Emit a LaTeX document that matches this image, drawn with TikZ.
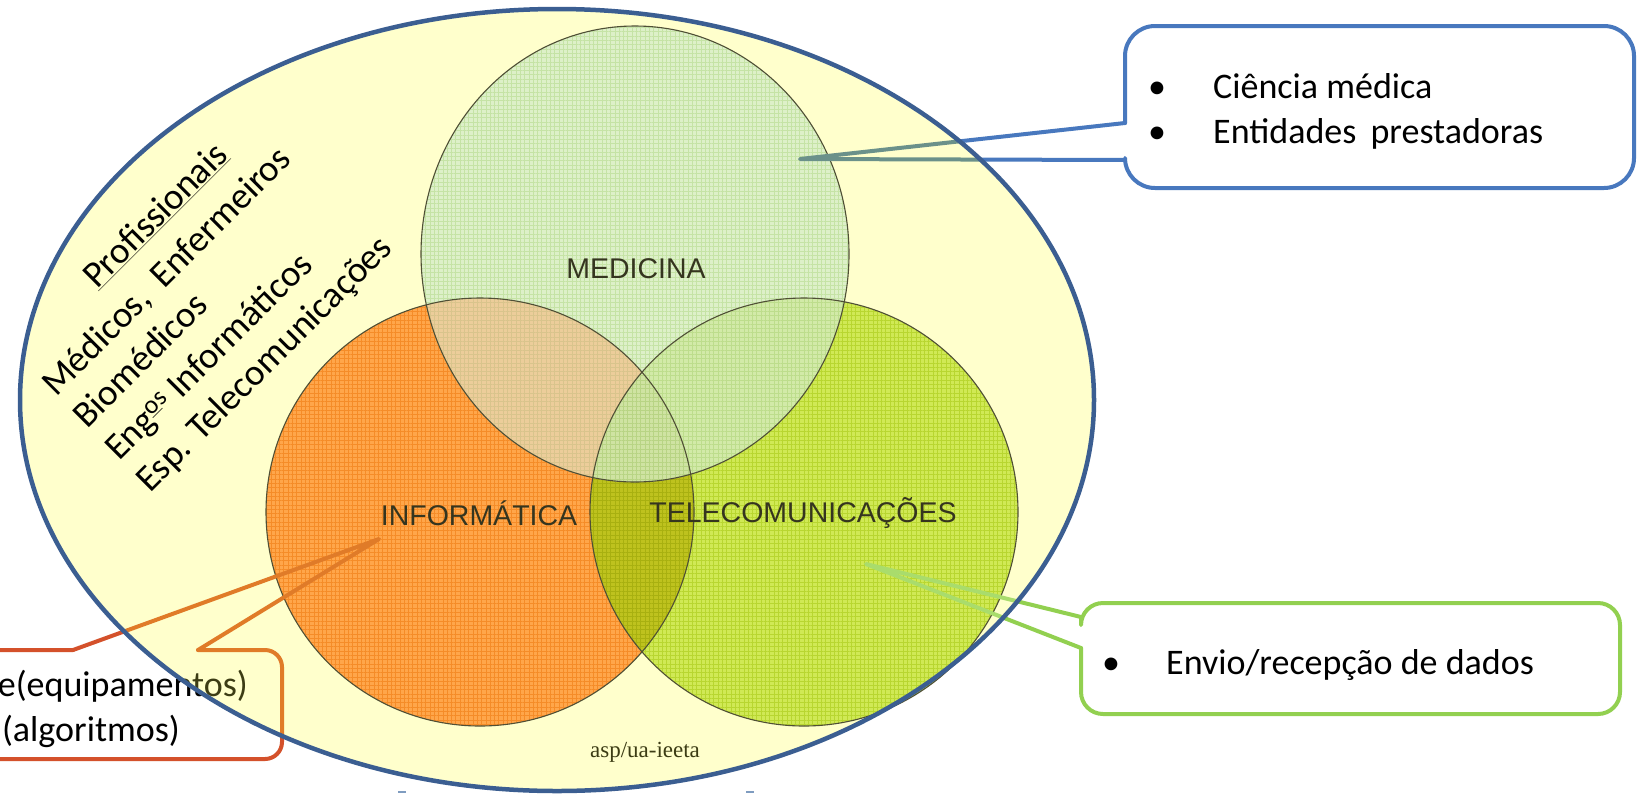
\documentclass[tikz,border=0pt]{standalone}
\usepackage{fontspec}
\setmainfont{Carlito}
\newfontfamily\arialf{Liberation Sans}
\newfontfamily\seriff{Liberation Serif}
\usetikzlibrary{patterns.meta}
\definecolor{ellfill}{HTML}{FFFFCC}
\definecolor{ellline}{HTML}{3B5E91}
\definecolor{bluecol}{HTML}{4878BE}
\definecolor{bluetint}{HTML}{6B918A}
\definecolor{greencol}{HTML}{92D050}
\definecolor{greentint}{HTML}{A9DC6C}
\definecolor{redcol}{HTML}{D4512B}
\definecolor{orangetint}{HTML}{E07B28}
\definecolor{olivetxt}{HTML}{3C3C14}
\definecolor{medfill}{HTML}{DDF0C8}
\definecolor{medhatch}{HTML}{C5E3A5}
\definecolor{infofill}{HTML}{FFA64A}
\definecolor{infohatch}{HTML}{F58C28}
\definecolor{telefill}{HTML}{D0E955}
\definecolor{telehatch}{HTML}{B8D630}
\definecolor{itfill}{HTML}{BEC21E}
\definecolor{ithatch}{HTML}{A8B010}
\definecolor{mifill}{HTML}{ECCD9A}
\definecolor{mihatch}{HTML}{D9C48C}
\definecolor{mtfill}{HTML}{D2EAA8}
\definecolor{mthatch}{HTML}{BDDD8C}
\definecolor{trifill}{HTML}{CFE3A2}
\definecolor{trihatch}{HTML}{B8D484}
\definecolor{vennline}{HTML}{4F4F35}
\definecolor{labtxt}{HTML}{35351F}
\definecolor{marks}{HTML}{7F9CC0}
\begin{document}
\begin{tikzpicture}[x=1pt,y=-1pt,
  callfont/.style={font=\fontsize{36}{44}\selectfont, inner sep=0pt},
  lab/.style={font=\arialf\fontsize{28.5}{34}\selectfont, text=labtxt, inner sep=0pt},
  prof/.style={font=\fontsize{37}{45}\selectfont, rotate=45, anchor=base west, inner sep=0pt},
  vborder/.style={draw=vennline, line width=1.1pt},
  vgrid/.style={pattern={Hatch[distance=4.3pt,angle=0,line width=0.8pt]}},
  bluecall/.style={draw=bluecol, line width=4pt, line cap=round, line join=round},
  greencall/.style={draw=greencol, line width=4pt, line cap=round, line join=round},
  redcall/.style={draw=redcol, line width=4pt, line cap=round, line join=round},
]
\useasboundingbox (0,0) rectangle (1637,793);
\fill[white] (0,0) rectangle (1637,793);

\coordinate (EC) at (557,400);
\coordinate (MC) at (635,254);
\coordinate (IC) at (480,512);
\coordinate (TC) at (804,512);
\coordinate (Btip) at (800,159);
\coordinate (Gtip) at (866,564);
\coordinate (Otip) at (379,539);

% ---- callouts (behind the ellipse)
\draw[bluecall, rounded corners=30pt] (1125,123) -- (1125,26) -- (1634,26) -- (1634,188) -- (1125,188) -- (1125,160);
\draw[bluecall] (1125,160) -- (Btip) -- (1125,123);
\node[callfont, anchor=base] (bb1) at (1157,98) {•};
\node[callfont, anchor=base west] (bt1) at (1213,98) {Ciência médica};
\node[callfont, anchor=base] (bb2) at (1157,143) {•};
\node[callfont, anchor=base west] (bt2) at (1213,143) {Entidades\, prestadoras};

\draw[greencall, rounded corners=22pt] (1081,648) -- (1081,714) -- (1620,714) -- (1620,603) -- (1081,603) -- (1081,617);
\draw[greencall] (1081,617) -- (Gtip) -- (1081,648);
\node[callfont, anchor=base] (gb1) at (1111,674) {•};
\node[callfont, anchor=base west] (gt1) at (1166,674) {Envio/recepção de dados};

\draw[redcall, rounded corners=17pt] (198,650) -- (282,650) -- (282,759) -- (-40,759) -- (-40,650) -- (73,650);
\draw[redcall] (73,650) -- (Otip) -- (198,650);
\node[callfont, anchor=base east] (hw) at (248,696) {e(equipamentos)};
\node[callfont, anchor=base east] (sw) at (180,741) {(algoritmos)};

% ---- outer ellipse fill
\fill[ellfill] (EC) ellipse [x radius=537pt, y radius=391pt];

% ---- Venn circles
\fill[infofill] (IC) circle [radius=214pt];
\fill[vgrid, pattern color=infohatch] (IC) circle [radius=214pt];
\fill[telefill] (TC) circle [radius=214pt];
\fill[vgrid, pattern color=telehatch] (TC) circle [radius=214pt];
\begin{scope}
  \clip (IC) circle [radius=214pt];
  \fill[itfill] (TC) circle [radius=214pt];
  \fill[vgrid, pattern color=ithatch] (TC) circle [radius=214pt];
\end{scope}
\fill[medfill] (MC) ellipse [x radius=214pt, y radius=228pt];
\fill[vgrid, pattern color=medhatch] (MC) ellipse [x radius=214pt, y radius=228pt];
\begin{scope}
  \clip (MC) ellipse [x radius=214pt, y radius=228pt];
  \fill[mifill] (IC) circle [radius=214pt];
  \fill[vgrid, pattern color=mihatch] (IC) circle [radius=214pt];
  \fill[mtfill] (TC) circle [radius=214pt];
  \fill[vgrid, pattern color=mthatch] (TC) circle [radius=214pt];
  \clip (IC) circle [radius=214pt];
  \fill[trifill] (TC) circle [radius=214pt];
  \fill[vgrid, pattern color=trihatch] (TC) circle [radius=214pt];
\end{scope}
\draw[vborder] (IC) circle [radius=214pt];
\draw[vborder] (TC) circle [radius=214pt];
\draw[vborder] (MC) ellipse [x radius=214pt, y radius=228pt];

\node[lab] (med) at (636,269) {MEDICINA};
\node[lab] (inf) at (479,513) {INFORMÁTICA};
\node[lab] (tel) at (803,513) {TELECOMUNICAÇÕES};
\node[font=\seriff\fontsize{23}{27}\selectfont, text=olivetxt, anchor=base, inner sep=0pt] (asp) at (645,757) {asp/ua-ieeta};

% ---- professionals
\node[prof] (p0) at (97,290) {\underline{Profissionais}};
\node[prof] (p1) at (56,398) {Médicos,\ \ Enfermeiros};
\node[prof] (p2) at (87,430) {Biomédicos};
\node[prof] (p3) at (119,462) {Eng\textsuperscript{\underline{o}s} Informáticos};
\node[prof] (p4) at (150,494) {Esp. Telecomunicações};

% ---- callout parts seen through the ellipse
\begin{scope}
  \clip (EC) ellipse [x radius=537pt, y radius=391pt];
  \draw[bluecall, draw=bluetint] (1125,160) -- (Btip) -- (1125,123);
  \draw[greencall, draw=greentint] (1081,617) -- (Gtip) -- (1081,648);
  \draw[redcall, draw=orangetint, rounded corners=17pt] (198,650) -- (282,650) -- (282,759) -- (-40,759);
  \draw[redcall, draw=orangetint] (73,650) -- (Otip) -- (198,650);
  \node[callfont, anchor=base east, text=olivetxt] (hw2) at (248,696) {e(equipamentos)};
\end{scope}

% ---- outer ellipse border
\draw[ellline, line width=4.5pt] (EC) ellipse [x radius=537pt, y radius=391pt];

\fill[marks] (398,791) rectangle (406,793);
\fill[marks] (746,791) rectangle (754,793);
\end{tikzpicture}
\end{document}
